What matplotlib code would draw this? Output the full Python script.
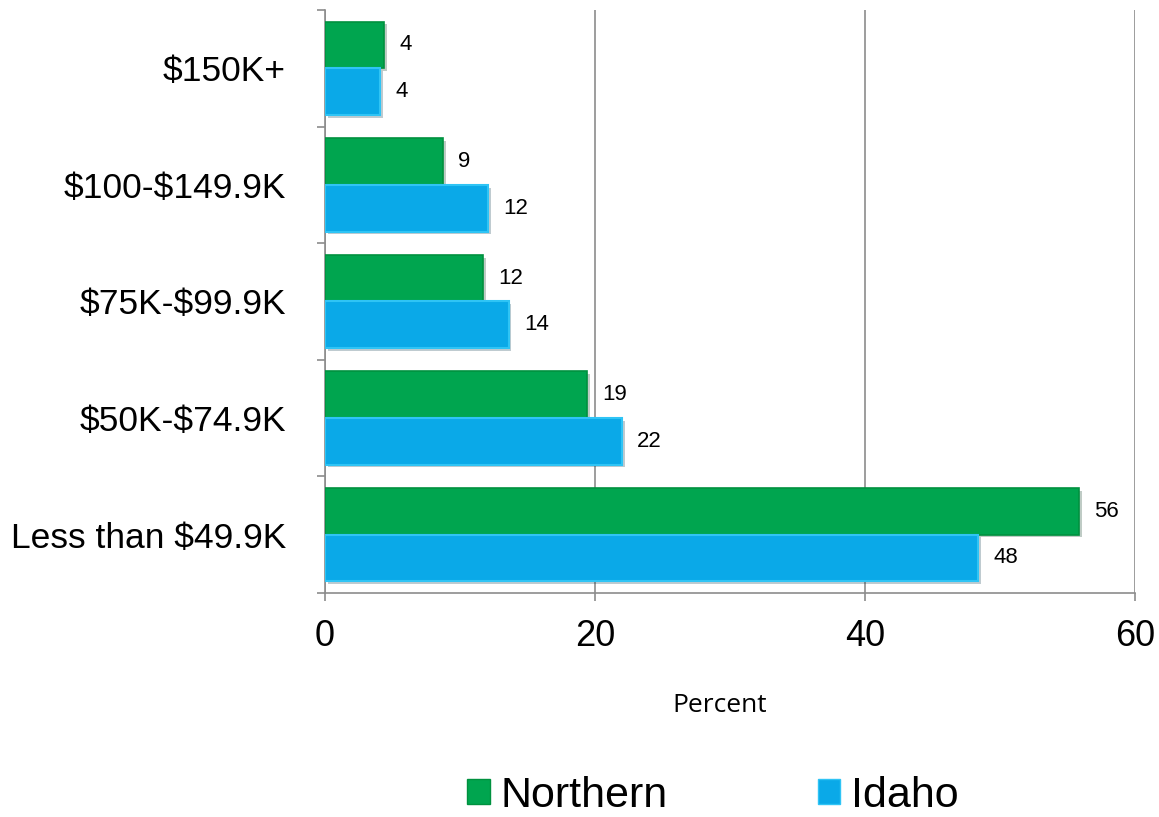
import matplotlib
matplotlib.use('Agg')
import matplotlib.pyplot as plt
import matplotlib.patheffects as pe
from matplotlib.patches import Patch
import numpy as np

plt.rcParams['font.family'] = ['Liberation Sans', 'DejaVu Sans']
plt.rcParams['text.parse_math'] = False

categories = ['Less than $49.9K', '$50K-$74.9K', '$75K-$99.9K',
              '$100-$149.9K', '$150K+']
northern = [55.85, 19.4, 11.7, 8.74, 4.37]
idaho = [48.4, 22.0, 13.6, 12.07, 4.07]
series_names = ['Northern', 'Idaho']
x_ticks = [0, 20, 40, 60]

green = '#00A54F'
green_edge = '#00913F'
blue = '#0AA9E8'
blue_edge = '#2FC4F5'

fig = plt.figure(figsize=(11.59, 8.17), dpi=100)
ax = fig.add_axes([0.2804, 0.2742, 0.6989, 0.7136])

y = np.arange(len(categories))
h = 0.4
shadow = [pe.SimplePatchShadow(offset=(2, -2), alpha=0.25), pe.Normal()]

bn = ax.barh(y + h / 2, northern, height=h, color=green, edgecolor=green_edge,
             linewidth=1.2, zorder=3)
bi = ax.barh(y - h / 2, idaho, height=h, color=blue, edgecolor=blue_edge,
             linewidth=1.5, zorder=3)
for b in list(bn) + list(bi):
    b.set_path_effects(shadow)

# value labels
for yy, v in zip(y + h / 2, northern):
    ax.annotate(f'{v:.0f}', (v, yy), xytext=(11, 0), textcoords='offset points',
                va='center', ha='left', fontsize=16, color='black')
for yy, v in zip(y - h / 2, idaho):
    ax.annotate(f'{v:.0f}', (v, yy), xytext=(11, 0), textcoords='offset points',
                va='center', ha='left', fontsize=16, color='black')

ax.set_xlim(0, 60)
ax.set_ylim(-0.5, len(categories) - 0.5)
ax.set_xticks(x_ticks)
ax.set_xticklabels([str(t) for t in x_ticks], fontsize=26)
ax.set_yticks(y)
ax.set_yticklabels(categories, fontsize=25.5)
ax.set_yticks(np.arange(-0.5, len(categories)), minor=True)

ax.tick_params(axis='y', which='major', length=0, pad=28)
ax.tick_params(axis='y', which='minor', length=6, width=1.2, color='#8C8C8C')
ax.tick_params(axis='x', length=6, width=1.2, color='#8C8C8C', pad=13)

ax.grid(True, axis='x', color='#8C8C8C', linewidth=1.2, zorder=0)
ax.set_axisbelow(True)
for s in ['top', 'right']:
    ax.spines[s].set_visible(False)
for s in ['left', 'bottom']:
    ax.spines[s].set_color('#8C8C8C')
    ax.spines[s].set_linewidth(1.2)

fig.text(720 / 1159, 1 - 705 / 817, 'Percent', family=['Open Sans', 'DejaVu Sans'],
         fontsize=19, ha='center', va='center')

handles = [Patch(facecolor=green, edgecolor=green_edge),
           Patch(facecolor=blue, edgecolor=blue_edge)]
fig.legend(handles, series_names, loc='center', bbox_to_anchor=(713 / 1159, 1 - 796 / 817),
           ncol=2, frameon=False, fontsize=31, handlelength=0.52, handleheight=0.52,
           handletextpad=0.25, columnspacing=3.5, borderpad=0)

fig.savefig('out.png', dpi=100)
